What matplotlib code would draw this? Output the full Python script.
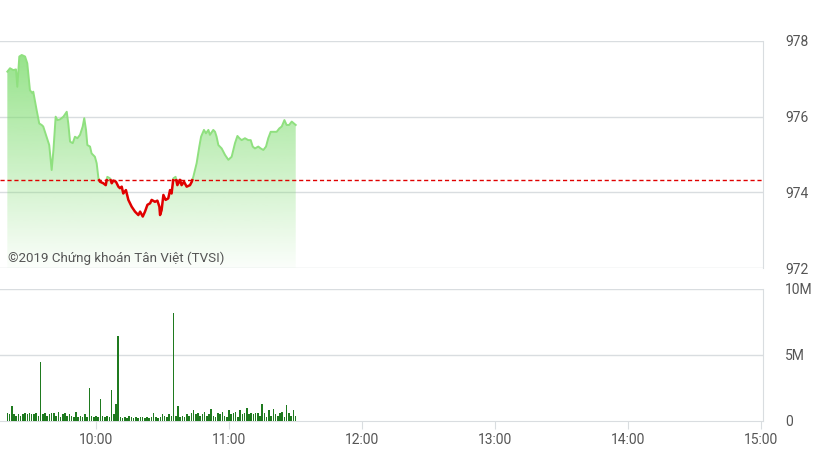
import numpy as np
import matplotlib
matplotlib.use("Agg")
import matplotlib.pyplot as plt

# Giá chỉ số (phút tính từ 9:00, điểm)
t_price = [20.0, 21.2, 22.7, 23.9, 24.5, 25.4, 26.5, 28.0, 29.0, 30.2, 31.3, 31.7,
           33.2, 34.4, 35.5, 36.2, 37.7, 38.9, 40.0, 40.8, 41.8, 42.6, 43.8, 45.3,
           46.8, 47.5, 48.3, 49.5, 50.5, 51.6, 52.8, 54.0, 54.7, 55.5, 56.1, 57.3,
           58.0, 59.5, 60.3, 61.1, 61.8, 63.3, 64.4, 65.1, 66.3, 67.1, 67.8, 69.0,
           70.1, 70.8, 71.6, 72.3, 73.5, 74.6, 76.1, 77.6, 79.1, 79.9, 81.1, 82.1,
           83.2, 84.4, 85.1, 86.6, 87.7, 88.6, 88.9, 89.6, 90.4, 91.4, 92.6, 93.4,
           94.1, 94.9, 95.9, 96.7, 97.9, 98.6, 99.7, 100.9, 102.4, 103.2, 103.9, 105.4,
           106.6, 107.4, 108.7, 109.6, 110.7, 111.4, 112.9, 113.7, 114.4, 115.2, 116.7, 118.2,
           119.7, 121.2, 122.7, 123.8, 124.7, 125.7, 127.2, 128.7, 129.8, 130.7, 131.7, 133.2,
           134.3, 135.5, 136.7, 137.7, 138.8, 140.0, 141.5, 142.7, 143.8, 145.0, 146.0, 147.1,
           148.3, 149.3, 150.1]
price = [977.19, 977.28, 977.23, 977.25, 976.79, 977.59, 977.63, 977.59, 977.41, 976.70, 976.62, 976.66,
         976.18, 975.82, 975.78, 975.74, 975.47, 975.25, 974.59, 975.12, 976.00, 975.91, 975.93, 976.00,
         976.13, 975.82, 975.34, 975.30, 975.47, 975.43, 975.52, 975.74, 975.96, 975.65, 975.25, 975.21,
         975.03, 974.94, 974.77, 974.37, 974.28, 974.24, 974.19, 974.41, 974.37, 974.24, 974.31, 974.28,
         974.15, 974.11, 974.15, 973.97, 974.06, 973.80, 973.62, 973.49, 973.40, 973.49, 973.36, 973.49,
         973.67, 973.71, 973.80, 973.75, 973.78, 973.62, 973.40, 973.53, 973.93, 973.80, 973.84, 974.06,
         973.97, 974.37, 974.41, 974.19, 974.33, 974.19, 974.28, 974.15, 974.19, 974.28, 974.41, 974.77,
         975.21, 975.47, 975.65, 975.56, 975.65, 975.52, 975.65, 975.60, 975.47, 975.25, 975.16, 974.99,
         974.86, 974.94, 975.30, 975.49, 975.43, 975.38, 975.43, 975.38, 975.38, 975.21, 975.16, 975.21,
         975.16, 975.12, 975.21, 975.43, 975.60, 975.60, 975.60, 975.69, 975.74, 975.91, 975.78, 975.78,
         975.87, 975.82, 975.78]
ref_price = 974.32

# Khối lượng mỗi phút từ 9:20 (triệu cp)
vol_start = 20
volume = [0.6, 0.5, 1.1, 0.5, 0.4, 0.5, 0.4, 0.5, 0.6, 0.5, 0.6, 0.5, 0.5, 0.6, 0.4, 4.44,
          0.5, 0.6, 0.4, 0.5, 0.6, 0.6, 0.4, 0.7, 0.3, 0.5, 0.6, 0.4, 0.5, 0.4, 0.3, 0.7,
          0.3, 0.4, 0.3, 0.5, 0.3, 2.5, 0.4, 0.3, 0.4, 0.3, 1.7, 0.4, 0.3, 0.4, 0.3, 2.37,
          0.5, 1.3, 6.42, 0.3, 0.2, 0.3, 0.2, 0.4, 0.3, 0.2, 0.3, 0.2, 0.3, 0.3, 0.2, 0.3,
          0.2, 0.3, 0.6, 0.3, 0.2, 0.3, 0.5, 0.4, 0.3, 0.5, 0.4, 8.15, 0.4, 1.1, 0.3, 0.4,
          0.3, 0.5, 0.4, 0.6, 0.8, 0.5, 0.6, 0.4, 0.5, 0.7, 0.4, 0.5, 0.9, 0.4, 0.3, 0.6,
          0.5, 0.7, 0.4, 0.3, 0.8, 0.5, 0.6, 0.7, 0.3, 0.8, 0.5, 0.6, 1.0, 0.5, 0.6, 0.5,
          0.6, 0.6, 0.4, 1.3, 0.6, 0.3, 0.8, 0.4, 0.9, 0.5, 0.4, 0.6, 0.7, 0.3, 1.25, 0.6,
          0.4, 0.8, 0.4]

time_ticks = [60, 120, 180, 240, 300, 360]
time_labels = ["10:00", "11:00", "12:00", "13:00", "14:00", "15:00"]
price_ticks = [972, 974, 976, 978]
vol_ticks = [0, 5e6, 10e6]
vol_labels = ["0", "5M", "10M"]

tick_font = ["Liberation Sans Narrow", "Roboto", "DejaVu Sans"]
grid_c = "#d9dde0"
lab_c = "#555555"

W, H = 817, 459
fig = plt.figure(figsize=(W / 100, H / 100), dpi=100)
xlim = (60 - 96 * 60 / 133, 360 + 2 * 60 / 133)

def frac(x0, y0, x1, y1):
    return [x0 / W, 1 - y1 / H, (x1 - x0) / W, (y1 - y0) / H]

ax = fig.add_axes(frac(0, 41, 763, 268))
axv = fig.add_axes(frac(0, 289, 763, 421))

# --- bảng giá ---
t = np.array(t_price)
p = np.array(price)
ax.set_xlim(*xlim)
ax.set_ylim(972, 978)

# nền gradient dưới đường giá
poly = ax.fill_between(t, p, 972, color="none", lw=0)
grad = np.zeros((256, 1, 4))
grad[:, 0, :3] = np.array([125, 220, 110]) / 255
grad[:, 0, 3] = np.linspace(0.85, 0.03, 256)
img = ax.imshow(grad, extent=[xlim[0], xlim[1], 972, 978], aspect="auto",
                origin="upper", zorder=1)
img.set_clip_path(poly.get_paths()[0], transform=ax.transData)

# tách đường xanh / đỏ tại giá tham chiếu
xs, ys = [t[0]], [p[0]]
for i in range(1, len(t)):
    a, b = p[i - 1] - ref_price, p[i] - ref_price
    if a * b < 0:
        tc = t[i - 1] + (t[i] - t[i - 1]) * a / (a - b)
        xs.append(tc)
        ys.append(ref_price)
    xs.append(t[i])
    ys.append(p[i])
xs, ys = np.array(xs), np.array(ys)
up = np.ma.masked_where(ys < ref_price - 1e-9, ys)
dn = np.ma.masked_where(ys > ref_price + 1e-9, ys)
ax.plot(xs, up, color="#8fe07f", lw=1.4, zorder=3)
ax.plot(xs, dn, color="#e00000", lw=1.8, zorder=4)
ax.axhline(ref_price, color="#e00000", lw=1, ls=(0, (3, 2)), zorder=5)

for v in price_ticks:
    ax.axhline(v, color=grid_c, lw=1, zorder=0)
for s in ["left", "top", "bottom"]:
    ax.spines[s].set_visible(False)
ax.spines["right"].set_color(grid_c)
ax.set_xticks([])
ax.yaxis.tick_right()
ax.set_yticks(price_ticks)
ax.tick_params(axis="y", length=0, pad=16, labelsize=10, labelcolor=lab_c)
for lb in ax.get_yticklabels():
    lb.set_family(tick_font)

fig.text(8 / W, 1 - 258 / H, "©2019 Chứng khoán Tân Việt (TVSI)",
         fontsize=9.6, color=lab_c, family=["Roboto", "DejaVu Sans"],
         va="center", ha="left", zorder=6)

# --- khối lượng ---
tv = vol_start + np.arange(len(volume))
axv.bar(tv, np.array(volume) * 1e6, width=0.7, color="#1f7a1f", lw=0, zorder=3)
axv.set_xlim(*xlim)
axv.set_ylim(0, 10e6)
for v in vol_ticks[1:]:
    axv.axhline(v, color=grid_c, lw=1, zorder=0)
for s in ["left", "top"]:
    axv.spines[s].set_visible(False)
axv.spines["right"].set_color(grid_c)
axv.spines["bottom"].set_color(grid_c)
axv.yaxis.tick_right()
axv.set_yticks(vol_ticks)
axv.set_yticklabels(vol_labels)
axv.tick_params(axis="y", length=0, pad=16, labelsize=10, labelcolor=lab_c)
axv.set_xticks(time_ticks)
axv.set_xticklabels(time_labels)
axv.tick_params(axis="x", length=6, color=grid_c, pad=3, labelsize=10, labelcolor=lab_c)
for lb in axv.get_yticklabels() + axv.get_xticklabels():
    lb.set_family(tick_font)

fig.savefig("out.png", dpi=100)
